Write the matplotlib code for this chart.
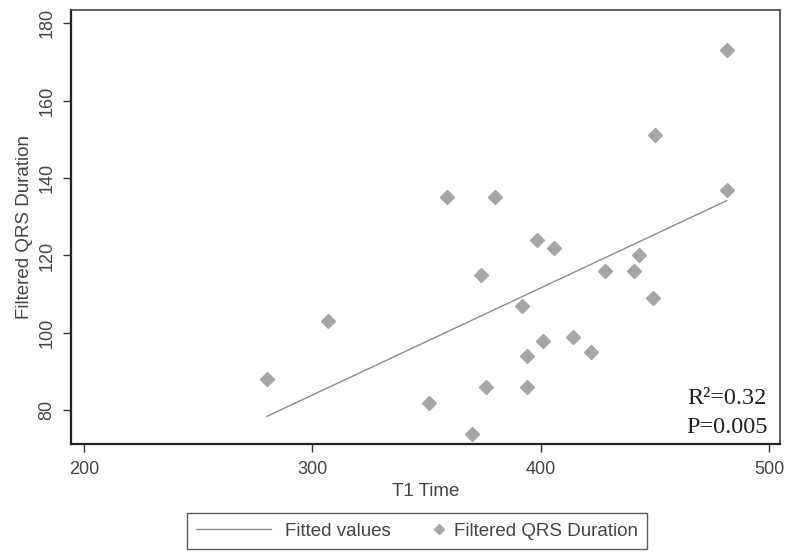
import numpy as np
import matplotlib
matplotlib.use("Agg")
import matplotlib.pyplot as plt
from matplotlib.legend_handler import HandlerLine2D

t1_time = [280, 307, 359, 380, 398.5, 406, 374, 428, 441, 443, 450, 481.5, 481.5,
           449, 392, 401, 414, 422, 394, 376, 394, 351, 370]
qrs_duration = [88, 103, 135, 135, 124, 122, 115, 116, 116, 120, 151, 173, 137,
                109, 107, 98, 99, 95, 94, 86, 86, 82, 74]
x_ticks = [200, 300, 400, 500]
y_ticks = [80, 100, 120, 140, 160, 180]
stats_text = ["R\u00b2=0.32", "P=0.005"]

x = np.array(t1_time)
y = np.array(qrs_duration)
slope, intercept = np.polyfit(x, y, 1)
xs = np.sort(x)
fitted = slope * xs + intercept


class RightMarkerHandler(HandlerLine2D):
    """Place the single legend marker near the right end of the handle box."""
    def get_xdata(self, legend, xdescent, ydescent, width, height, fontsize):
        m = -xdescent + width - 0.05 * fontsize
        return [m - 1.0, m + 1.0], [m]


plt.rcParams['font.family'] = ['Liberation Sans', 'DejaVu Sans']
fig = plt.figure(figsize=(7.88, 5.52), dpi=100)
ax = fig.add_axes([71/788, 1-444/552, (780-71)/788, (444-10)/552])

line_color = '#8c8c8c'
marker_color = '#a6a6a6'
text_color = '#454545'

ln, = ax.plot(xs, fitted, color=line_color, lw=1.0, label='Fitted values')
sc, = ax.plot(x, y, linestyle='none', marker='D', ms=6.8, color=marker_color,
              mec=marker_color, label='Filtered QRS Duration')

ax.set_xlim(194.3, 504.8)
ax.set_ylim(71.3, 183.4)
ax.set_xticks(x_ticks)
ax.set_yticks(y_ticks)
ax.tick_params(axis='both', direction='out', length=6, width=1.0, color='#333333',
               labelsize=13, labelcolor=text_color)
ax.tick_params(axis='x', pad=6)
ax.tick_params(axis='y', pad=5)
for lbl in ax.get_yticklabels():
    lbl.set_rotation(90)
    lbl.set_va('center')

for s in ['left', 'bottom']:
    ax.spines[s].set_linewidth(1.6)
    ax.spines[s].set_color('#222222')
for s in ['top', 'right']:
    ax.spines[s].set_linewidth(1.2)
    ax.spines[s].set_color('#444444')

ax.set_xlabel('T1 Time', fontsize=13.5, color=text_color, labelpad=4)
ax.set_ylabel('Filtered QRS Duration', fontsize=13.5, color=text_color, labelpad=4)

serif = ['Liberation Serif', 'DejaVu Serif']
ax.text(0.981, 0.105, stats_text[0], transform=ax.transAxes, ha='right', va='center',
        fontsize=17.5, family=serif, color='#222222')
ax.text(0.983, 0.038, stats_text[1], transform=ax.transAxes, ha='right', va='center',
        fontsize=17.5, family=serif, color='#222222')

leg = fig.legend(handles=[ln, sc], loc='center', ncol=2,
                 bbox_to_anchor=(417/788, 1-531/552), fontsize=13.5,
                 frameon=True, fancybox=False, edgecolor='#333333',
                 handlelength=4.0, columnspacing=-1.39, borderpad=0.5,
                 handletextpad=0.75, labelcolor=text_color, markerscale=0.75,
                 handler_map={sc: RightMarkerHandler(numpoints=1)})
leg.get_frame().set_linewidth(1.0)

fig.savefig('out.png', dpi=100)
